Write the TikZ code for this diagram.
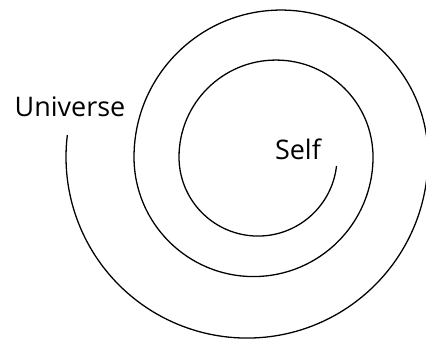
\documentclass[tikz,border=0pt]{standalone}
\usepackage{fontspec}
\setmainfont{Open Sans}
\usepackage{tikz}
\usetikzlibrary{positioning,calc}

\begin{document}
\begin{tikzpicture}[
    x=0.03cm, y=-0.03cm,
    spiral/.style={draw, line width=1.1pt},
    word/.style={anchor=base, inner sep=0pt, font=\fontsize{23}{27}\selectfont}
]
\useasboundingbox (0,0) rectangle (426,339);

% Spiral, half turn by half turn
\path[spiral] (336.5,166)
    arc[start angle=6.5, end angle=180, radius=79]
    arc[start angle=180, end angle=360, radius=97]
    arc[start angle=0, end angle=180, radius=119.5]
    arc[start angle=180, end angle=360, radius=147]
    arc[start angle=0, end angle=187, radius=181];

% Labels
\node[word] (universe) at (70,116) {Universe};
\node[word] (self) at (298,159) {Self};

\end{tikzpicture}
\end{document}
